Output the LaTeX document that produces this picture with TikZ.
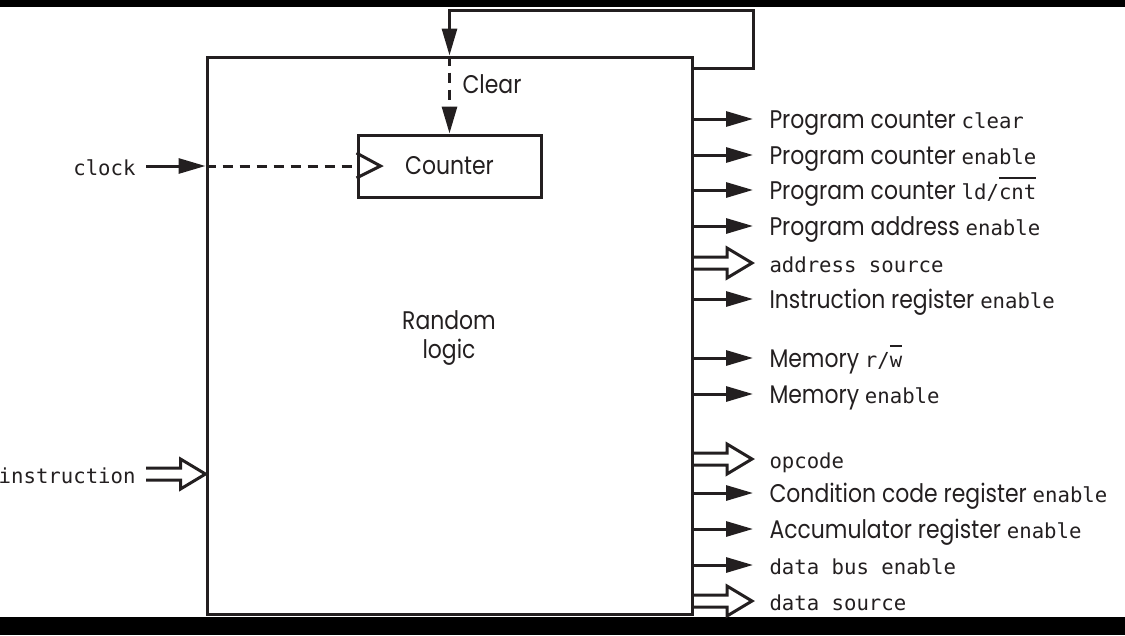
\documentclass[tikz,border=0pt]{standalone}
\usepackage{fontspec}
\setmainfont{Poppins}[FakeStretch=0.86]
\setmonofont{DejaVu Sans Mono}[Scale=0.81]
\usetikzlibrary{arrows.meta,calc}
\definecolor{ink}{RGB}{35,31,32}
\newcommand\mt[1]{{\ttfamily #1}}
\newcommand\ovl[1]{\setbox0\hbox{#1}\rlap{\raisebox{20pt}{\rule{\wd0}{1.8pt}}}\box0}
\begin{document}
\begin{tikzpicture}[x=1pt,y=-1pt,line width=3pt,draw=ink,text=ink,
  font=\fontsize{25.5}{29}\selectfont,
  sig/.style={-{Triangle[length=27pt,width=15pt]}},
  busline/.style={line join=miter},
  bus/.style={to path={($(\tikztostart)+(0,-6)$) -- ($(\tikztotarget)+(-25,-6)$) -- ($(\tikztotarget)+(-25,-15)$) -- (\tikztotarget) -- ($(\tikztotarget)+(-25,15)$) -- ($(\tikztotarget)+(-25,6)$) -- ($(\tikztostart)+(0,6)$)}},
  lab/.style={inner sep=0pt,anchor=west,text height=18pt,text depth=0pt},
  dsh/.style={dash pattern=on 10pt off 7pt}]
\useasboundingbox (0,0) rectangle (1125,635);
\fill[black] (0,0) rectangle (1125,7);
\fill[black] (0,617) rectangle (1125,635);

% main block
\node[draw,minimum width=485pt,minimum height=557pt,inner sep=0pt] (rl) at (449.5,335.5) {};
\node[align=center,inner sep=0pt] (rltxt) at (449,338) {Random\\logic};

% counter
\node[draw,minimum width=183pt,minimum height=62pt,inner sep=0pt] (ctr) at (449.5,166) {Counter};
\draw[line join=miter] ($(ctr.west)+(0,-13)$) -- ($(ctr.west)+(24,0)$) -- ($(ctr.west)+(0,12)$);

% clock
\node[lab,anchor=east] (clk) at (137,166) {\mt{clock}};
\coordinate (clkin) at (rl.west |- ctr.west);
\draw[sig] ([xshift=9pt]clk.east) -- (clkin);
\draw[dsh] (clkin) -- (ctr.west);

% clear feedback
\coordinate (fbs) at ($(rl.north east)+(0,13)$);
\coordinate (fbc) at (753,10);
\draw[sig,line join=miter] (fbs) -| (fbc) -| (rl.north);
\draw[sig,dsh] (rl.north) -- (ctr.north);
\node[lab] (clr) at (461,84) {Clear};

% instruction bus
\node[lab,anchor=east] (ins) at (137,474) {\mt{instruction}};
\coordinate (inss) at ([xshift=9pt]ins.east);
\coordinate (inst) at (rl.west |- ins.east);
\draw[busline] (inss) to[bus] (inst);

% outputs
\newcommand\outsig[3]{%
  \node[lab] (#2) at (768,#1) {#3};
  \draw[sig] (rl.east |- #2.west) -- ([xshift=-15pt]#2.west);}
\newcommand\outbus[3]{%
  \node[lab] (#2) at (768,#1) {#3};
  \coordinate (#2s) at (rl.east |- #2.west);
  \coordinate (#2t) at ([xshift=-16pt]#2.west);
  \draw[busline] (#2s) to[bus] (#2t);}
\outsig{119}{o1}{Program counter \mt{clear}}
\outsig{155}{o2}{Program counter \mt{enable}}
\outsig{190}{o3}{Program counter \mt{ld/\ovl{cnt}}}
\outsig{226}{o4}{Program address \mt{enable}}
\outbus{263}{o5}{\mt{address source}}
\outsig{299}{o6}{Instruction register \mt{enable}}
\outsig{358}{o7}{Memory \mt{r/\ovl{w}}}
\outsig{394}{o8}{Memory \mt{enable}}
\outbus{459}{o9}{\mt{opcode}}
\outsig{493}{o10}{Condition code register \mt{enable}}
\outsig{529}{o11}{Accumulator register \mt{enable}}
\outsig{565}{o12}{\mt{data bus enable}}
\outbus{601}{o13}{\mt{data source}}
\end{tikzpicture}
\end{document}
